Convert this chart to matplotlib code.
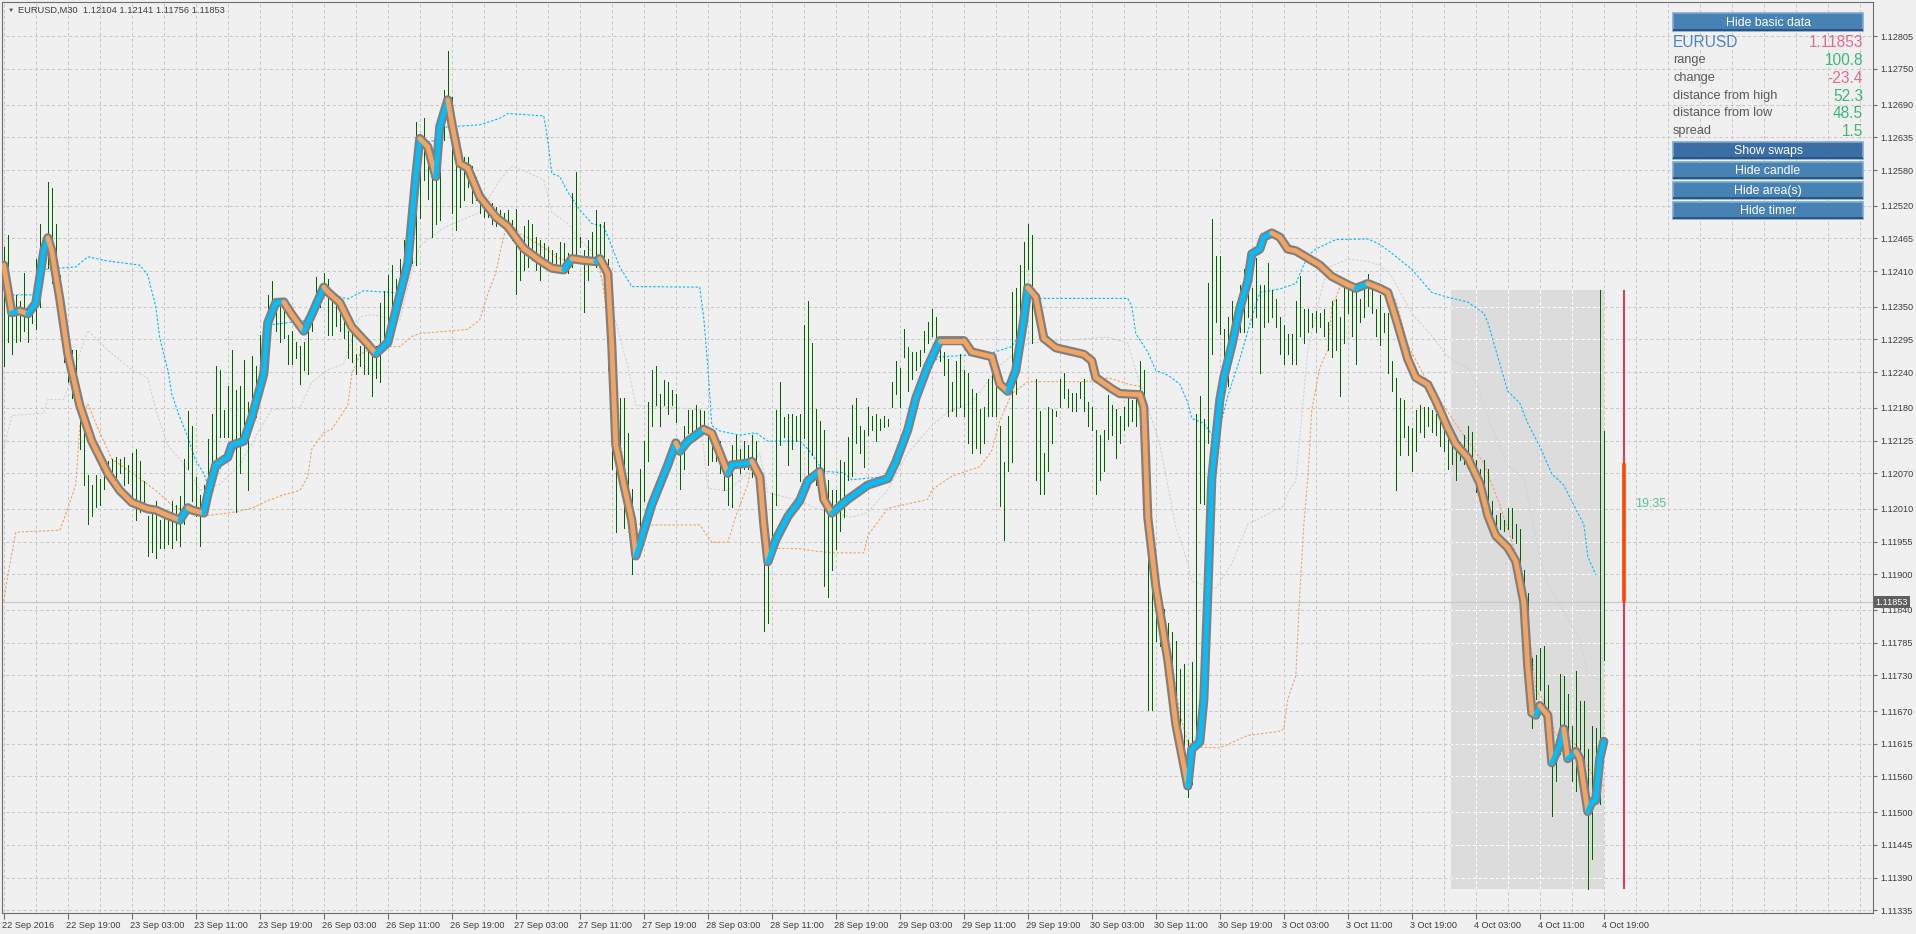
import matplotlib
matplotlib.use("Agg")
import matplotlib.pyplot as plt
import matplotlib.transforms as mtransforms
import numpy as np
from matplotlib.collections import LineCollection
from matplotlib.patches import Rectangle

plt.rcParams['font.family'] = ['Liberation Sans', 'DejaVu Sans']

W, H = 1916, 934
BASE = 1.1  # all price lists below are in points above 1.10000

symbol = "EURUSD"
timeframe = "M30"
last_ohlc = [1.12104, 1.12141, 1.11756, 1.11853]

# M30 bars, highs and lows (points)
hi = [
    2450, 2470, 2370, 2370, 2360, 2406, 2350, 2363, 2430, 2490,
    2456, 2559, 2550, 2490, 2403, 2357, 2310, 2277, 2277, 2204,
    2177, 2067, 2051, 2067, 2061, 2084, 2091, 2094, 2097, 2094,
    2097, 2084, 2104, 2111, 2091, 2057, 1998, 2017, 2024, 1991,
    2004, 1998, 2024, 2017, 2031, 2094, 2174, 2150, 2064, 2034,
    2051, 2127, 2170, 2250, 2244, 2177, 2217, 2277, 2210, 2217,
    2260, 2190, 2267, 2250, 2303, 2323, 2370, 2393, 2357, 2350,
    2357, 2303, 2310, 2290, 2284, 2290, 2320, 2357, 2400, 2383,
    2406, 2396, 2376, 2363, 2363, 2350, 2310, 2323, 2270, 2284,
    2290, 2284, 2284, 2284, 2357, 2376, 2403, 2420, 2396, 2430,
    2463, 2476, 2503, 2660, 2640, 2667, 2586, 2591, 2636, 2681,
    2715, 2780, 2703, 2586, 2591, 2602, 2602, 2586, 2569, 2541,
    2529, 2524, 2524, 2518, 2513, 2507, 2513, 2496, 2515, 2462,
    2485, 2496, 2490, 2468, 2462, 2457, 2451, 2445, 2440, 2459,
    2457, 2440, 2541, 2577, 2468, 2445, 2462, 2476, 2513, 2490,
    2493, 2430, 2277, 2164, 2197, 2197, 2137, 2044, 1984, 2077,
    2124, 2190, 2244, 2250, 2204, 2227, 2224, 2210, 2204, 2111,
    2150, 2177, 2177, 2184, 2177, 2174, 2144, 2144, 2131, 2124,
    2084, 2071, 2117, 2134, 2111, 2124, 2117, 2134, 2124, 2077,
    1984, 1951, 2037, 2177, 2224, 2164, 2170, 2170, 2167, 2170,
    2320, 2359, 2289, 2178, 2158, 2143, 2058, 2042, 2042, 2093,
    2089, 2131, 2185, 2197, 2150, 2143, 2181, 2166, 2170, 2162,
    2166, 2162, 2224, 2259, 2247, 2313, 2282, 2274, 2274, 2278,
    2309, 2324, 2347, 2332, 2289, 2274, 2262, 2224, 2259, 2270,
    2243, 2239, 2212, 2205, 2178, 2181, 2228, 2243, 2266, 2150,
    2089, 2166, 2374, 2382, 2421, 2459, 2490, 2471, 2228, 2174,
    2104, 2181, 2178, 2174, 2228, 2239, 2212, 2205, 2205, 2224,
    2228, 2189, 2181, 2143, 2135, 2143, 2201, 2185, 2178, 2166,
    2181, 2197, 2193, 2205, 2259, 2243, 2120, 1873, 1896, 1857,
    1842, 1818, 1803, 1788, 1741, 1749, 1622, 1753, 2169, 2200,
    2162, 2390, 2498, 2436, 2436, 2312, 2332, 2359, 2316, 2386,
    2413, 2436, 2382, 2432, 2386, 2386, 2424, 2378, 2363, 2332,
    2320, 2305, 2305, 2359, 2401, 2347, 2347, 2339, 2343, 2339,
    2347, 2324, 2359, 2363, 2332, 2382, 2393, 2386, 2389, 2363,
    2382, 2405, 2393, 2347, 2370, 2339, 2339, 2258, 2231, 2196,
    2193, 2150, 2146, 2177, 2185, 2181, 2181, 2177, 2169, 2177,
    2142, 2131, 2131, 2119, 2123, 2135, 2150, 2139, 2092, 2077,
    2092, 2077, 2023, 2000, 2003, 1992, 2011, 2011, 1984, 1976,
    1907, 1868, 1760, 1764, 1776, 1780, 1714, 1641, 1621, 1733,
    1729, 1699, 1645, 1737, 1687, 1687, 1606, 1645, 1641, 2378,
    2141]
lo = [
    2250, 2290, 2270, 2290, 2293, 2310, 2290, 2323, 2313, 2350,
    2410, 2416, 2390, 2383, 2310, 2257, 2224, 2197, 2190, 2111,
    2051, 1984, 1998, 2014, 2017, 2044, 2064, 2051, 2064, 2071,
    2051, 2054, 2024, 1991, 2004, 2011, 1931, 1938, 1928, 1944,
    1944, 1951, 1944, 1958, 1948, 1984, 2077, 2024, 1998, 1948,
    2001, 2044, 2057, 2077, 2131, 2131, 2131, 2104, 2004, 2071,
    2131, 2041, 2150, 2164, 2217, 2263, 2290, 2350, 2310, 2290,
    2297, 2254, 2254, 2263, 2220, 2244, 2237, 2310, 2337, 2350,
    2373, 2303, 2303, 2317, 2310, 2297, 2263, 2257, 2237, 2250,
    2237, 2237, 2200, 2230, 2224, 2277, 2317, 2337, 2350, 2350,
    2377, 2410, 2423, 2420, 2500, 2563, 2532, 2468, 2490, 2496,
    2630, 2653, 2507, 2479, 2518, 2529, 2552, 2524, 2529, 2507,
    2501, 2501, 2490, 2485, 2496, 2490, 2485, 2462, 2372, 2395,
    2412, 2417, 2428, 2412, 2395, 2434, 2417, 2412, 2417, 2406,
    2412, 2406, 2417, 2428, 2451, 2341, 2395, 2434, 2417, 2440,
    2434, 2244, 2077, 1971, 2051, 1978, 2004, 1901, 1938, 1964,
    2024, 2091, 2150, 2184, 2150, 2184, 2170, 2184, 2157, 2044,
    2077, 2137, 2137, 2144, 2144, 2150, 2084, 2091, 2091, 2071,
    2041, 2017, 2014, 2084, 2071, 2077, 2077, 2064, 2064, 1984,
    1805, 1818, 1958, 2017, 2117, 2131, 2084, 2111, 2124, 2057,
    2130, 2060, 2100, 2050, 2070, 1880, 1861, 1907, 1942, 1973,
    1996, 2058, 2066, 2120, 2104, 2081, 2135, 2143, 2124, 2143,
    2147, 2150, 2181, 2204, 2181, 2266, 2208, 2228, 2243, 2251,
    2274, 2289, 2301, 2297, 2259, 2235, 2166, 2174, 2166, 2181,
    2166, 2120, 2104, 2112, 2104, 2120, 2166, 2166, 2166, 2015,
    1957, 2073, 2089, 2204, 2251, 2367, 2413, 2289, 2058, 2035,
    2035, 2073, 2120, 2166, 2181, 2197, 2181, 2174, 2174, 2197,
    2174, 2150, 2143, 2035, 2058, 2073, 2127, 2135, 2096, 2120,
    2143, 2150, 2158, 2150, 2143, 2027, 1672, 1672, 1788, 1780,
    1764, 1714, 1649, 1625, 1641, 1560, 1525, 1548, 1610, 2020,
    2019, 2120, 2270, 2324, 2305, 2266, 2216, 2285, 2293, 2308,
    2308, 2332, 2316, 2332, 2239, 2316, 2324, 2332, 2316, 2270,
    2254, 2270, 2254, 2254, 2301, 2289, 2308, 2316, 2308, 2316,
    2301, 2277, 2266, 2277, 2200, 2289, 2339, 2301, 2254, 2324,
    2332, 2351, 2339, 2301, 2285, 2308, 2239, 2208, 2042, 2100,
    2131, 2100, 2073, 2108, 2139, 2131, 2150, 2139, 2135, 2116,
    2108, 2077, 2085, 2058, 2092, 2085, 2085, 2069, 2038, 2046,
    2023, 2000, 1969, 1969, 1977, 1973, 1977, 1961, 1953, 1884,
    1838, 1718, 1641, 1691, 1706, 1675, 1645, 1494, 1552, 1598,
    1645, 1621, 1552, 1536, 1598, 1560, 1370, 1421, 1513, 1513,
    1756]

# thick smoothed line (bar index, points)
smooth_i = [0, 2, 4, 6, 8, 10, 11, 12, 14, 16, 19, 22, 26, 29, 32, 36, 38, 41, 44, 46,
            47, 50, 51, 53, 56, 57, 60, 62, 65, 66, 68, 70, 72, 75, 77, 80, 81, 84, 87, 91,
            93, 96, 98, 101, 103, 104, 106, 108, 109, 111, 112, 114, 116, 119, 123, 126, 130, 134, 137, 140,
            142, 145, 148, 149, 151, 152, 153, 155, 157, 158, 159, 162, 166, 168, 169, 171, 175, 177, 179, 181,
            182, 186, 187, 189, 190, 191, 193, 196, 199, 201, 204, 205, 207, 211, 216, 221, 223, 226, 228, 231,
            234, 240, 242, 247, 249, 251, 253, 255, 256, 258, 260, 263, 270, 272, 273, 277, 279, 284, 285, 286,
            288, 291, 293, 296, 297, 299, 300, 301, 302, 304, 305, 307, 309, 311, 312, 314, 315, 317, 319, 321,
            323, 326, 329, 332, 336, 338, 341, 344, 346, 348, 351, 353, 356, 358, 361, 363, 366, 369, 371, 373,
            376, 378, 380, 381, 382, 383, 384, 386, 387, 389, 390, 391, 393, 394, 396, 397, 398, 399, 400]
smooth_v = [2420, 2340, 2343, 2338, 2356, 2444, 2466, 2444, 2363, 2271, 2184, 2124, 2070, 2041, 2021, 2010, 2008, 1999, 1991, 2012,
            2008, 2003, 2034, 2084, 2097, 2117, 2124, 2164, 2237, 2323, 2357, 2358, 2337, 2309, 2337, 2383, 2375, 2357, 2316, 2287,
            2271, 2290, 2343, 2423, 2570, 2633, 2619, 2569, 2653, 2698, 2659, 2591, 2583, 2535, 2501, 2485, 2448, 2428, 2415, 2412,
            2431, 2428, 2426, 2431, 2406, 2285, 2118, 2051, 1991, 1931, 1951, 2017, 2084, 2121, 2107, 2124, 2144, 2137, 2104, 2070,
            2084, 2087, 2090, 2064, 1984, 1921, 1958, 1997, 2024, 2057, 2073, 2026, 2003, 2026, 2050, 2061, 2089, 2143, 2196, 2250,
            2293, 2293, 2274, 2266, 2220, 2208, 2243, 2328, 2382, 2366, 2297, 2281, 2270, 2259, 2231, 2212, 2204, 2202, 2181, 1996,
            1880, 1756, 1648, 1544, 1606, 1618, 1689, 1868, 2062, 2193, 2231, 2285, 2347, 2393, 2439, 2447, 2467, 2474, 2467, 2447,
            2444, 2432, 2420, 2401, 2387, 2381, 2389, 2381, 2374, 2331, 2262, 2231, 2219, 2192, 2146, 2119, 2096, 2053, 1999, 1965,
            1945, 1922, 1853, 1744, 1667, 1663, 1679, 1663, 1583, 1613, 1640, 1590, 1602, 1590, 1501, 1517, 1520, 1590, 1619]

# upper channel (blue dotted)
upper_i = [0, 9, 10, 18, 21, 26, 34, 36, 38, 39, 41, 42, 44, 46, 48, 50, 51, 54, 57, 61,
           63, 66, 67, 76, 78, 79, 81, 82, 86, 90, 99, 101, 103, 105, 108, 110, 119, 124, 126, 135,
           136, 137, 139, 141, 144, 147, 150, 152, 154, 157, 174, 175, 176, 177, 179, 184, 188, 191, 199, 201,
           205, 210, 212, 220, 222, 226, 228, 231, 234, 246, 251, 252, 254, 257, 260, 281, 282, 283, 286, 288,
           291, 294, 296, 297, 300, 302, 304, 306, 309, 312, 314, 319, 323, 326, 328, 333, 341, 344, 347, 352,
           357, 361, 366, 370, 371, 374, 376, 379, 381, 384, 387, 390, 392, 395, 396, 398]
upper_v = [2370, 2370, 2413, 2417, 2434, 2427, 2420, 2403, 2350, 2297, 2244, 2203, 2164, 2131, 2091, 2070, 2051, 2077, 2107, 2124,
           2177, 2297, 2320, 2327, 2337, 2363, 2380, 2370, 2363, 2377, 2373, 2423, 2570, 2625, 2630, 2652, 2656, 2667, 2675, 2671,
           2630, 2574, 2569, 2543, 2513, 2490, 2485, 2451, 2417, 2384, 2383, 2330, 2250, 2150, 2141, 2134, 2138, 2124, 2124, 2111,
           2073, 2071, 2059, 2064, 2073, 2143, 2196, 2250, 2266, 2270, 2281, 2283, 2305, 2365, 2364, 2364, 2351, 2305, 2274, 2243,
           2235, 2220, 2189, 2162, 2154, 2135, 2146, 2200, 2262, 2332, 2374, 2380, 2389, 2436, 2447, 2463, 2464, 2455, 2440, 2413,
           2374, 2366, 2358, 2339, 2324, 2254, 2208, 2188, 2154, 2115, 2069, 2050, 2023, 1984, 1930, 1899]

# lower channel (orange dotted)
lower_i = [0, 1, 3, 14, 16, 18, 19, 21, 24, 27, 34, 38, 42, 46, 51, 57, 62, 66, 70, 74,
           76, 77, 80, 82, 86, 87, 89, 93, 99, 102, 104, 116, 119, 121, 123, 124, 126, 129, 132, 136,
           138, 142, 146, 149, 152, 154, 156, 157, 162, 174, 177, 181, 183, 186, 187, 189, 191, 199, 203, 207,
           215, 216, 221, 231, 232, 237, 244, 247, 249, 252, 256, 274, 276, 281, 284, 287, 291, 294, 296, 299,
           304, 311, 319, 320, 321, 323, 324, 325, 326, 327, 329, 331, 332, 334, 336, 344, 348, 351, 355, 359,
           364, 370, 374, 378, 380, 383, 385, 388, 390, 393, 395, 398, 400]
lower_v = [1855, 1898, 1971, 1974, 2011, 2051, 2150, 2187, 2138, 2094, 2061, 2041, 2017, 2004, 1999, 2004, 2011, 2024, 2034, 2041,
           2064, 2111, 2138, 2144, 2184, 2237, 2270, 2283, 2283, 2300, 2305, 2312, 2328, 2372, 2406, 2440, 2496, 2473, 2462, 2445,
           2434, 2424, 2422, 2417, 2291, 2124, 2051, 1985, 1983, 1983, 1954, 1954, 1998, 2051, 2091, 2059, 1944, 1943, 1939, 1936,
           1936, 1965, 2011, 2026, 2042, 2065, 2081, 2108, 2158, 2204, 2224, 2224, 2231, 2220, 2216, 1919, 1803, 1664, 1617, 1609,
           1608, 1629, 1636, 1640, 1690, 1729, 1868, 1984, 2061, 2177, 2247, 2277, 2347, 2382, 2387, 2387, 2361, 2286, 2235, 2193,
           2143, 2087, 2017, 1935, 1890, 1705, 1688, 1630, 1630, 1613, 1588, 1554, 1544]

# middle line (light grey dotted)
mid_i = [0, 2, 10, 11, 15, 21, 26, 32, 36, 38, 41, 46, 49, 54, 59, 64, 67, 74, 77, 81,
         85, 89, 92, 99, 102, 104, 110, 119, 124, 127, 131, 135, 137, 141, 144, 147, 152, 156, 158, 168,
         174, 176, 181, 185, 189, 191, 199, 203, 212, 216, 221, 226, 232, 236, 242, 249, 256, 276, 281, 283,
         289, 293, 296, 297, 303, 307, 311, 320, 321, 323, 326, 329, 331, 336, 341, 344, 347, 352, 357, 361,
         366, 369, 372, 376, 380, 384, 386, 390, 394, 396, 399]
mid_v = [2111, 2167, 2171, 2194, 2194, 2310, 2277, 2244, 2230, 2177, 2117, 2077, 2041, 2051, 2084, 2144, 2177, 2180, 2223, 2244,
         2254, 2333, 2337, 2327, 2410, 2453, 2483, 2509, 2563, 2586, 2576, 2563, 2509, 2490, 2463, 2443, 2350, 2250, 2184, 2180,
         2177, 2044, 2041, 2064, 2104, 2037, 2024, 2011, 1996, 2004, 2042, 2104, 2150, 2173, 2189, 2251, 2289, 2299, 2289, 2243,
         2119, 1980, 1919, 1888, 1876, 1918, 1984, 2015, 2038, 2057, 2277, 2366, 2416, 2430, 2426, 2420, 2401, 2339, 2301, 2266,
         2247, 2208, 2146, 2084, 2061, 1930, 1884, 1837, 1791, 1729, 1721]

area_start, area_end = 362, 400
timer_bar = 405
timer_top, timer_bottom = 1.12088, 1.11853
timer_text = "19:35"

xlabels = ["22 Sep 2016", "22 Sep 19:00", "23 Sep 03:00", "23 Sep 11:00", "23 Sep 19:00",
           "26 Sep 03:00", "26 Sep 11:00", "26 Sep 19:00", "27 Sep 03:00", "27 Sep 11:00",
           "27 Sep 19:00", "28 Sep 03:00", "28 Sep 11:00", "28 Sep 19:00", "29 Sep 03:00",
           "29 Sep 11:00", "29 Sep 19:00", "30 Sep 03:00", "30 Sep 11:00", "30 Sep 19:00",
           "3 Oct 03:00", "3 Oct 11:00", "3 Oct 19:00", "4 Oct 03:00", "4 Oct 11:00", "4 Oct 19:00"]
yticks = [1.12805, 1.12750, 1.12690, 1.12635, 1.12580, 1.12520, 1.12465, 1.12410, 1.12350,
          1.12295, 1.12240, 1.12180, 1.12125, 1.12070, 1.12010, 1.11955, 1.11900, 1.11840,
          1.11785, 1.11730, 1.11670, 1.11615, 1.11560, 1.11500, 1.11445, 1.11390, 1.11335]

info_labels = ["range", "change", "distance from high", "distance from low", "spread"]
info_values = ["100.8", "-23.4", "52.3", "48.5", "1.5"]
info_colors = ["#3cb878", "#e06c8c", "#3cb878", "#3cb878", "#3cb878"]
buttons = ["Show swaps", "Hide candle", "Hide area(s)", "Hide timer"]


def p(v):
    return BASE + np.asarray(v, dtype=float) / 1e5


def fx(px):
    return px / W


def fy(py):
    return 1 - py / H


BG = "#f0f0f0"
GRID = "#c8c8c8"
FRAME = "#6e6e6e"
TXT = "#3c3c3c"

fig = plt.figure(figsize=(W / 100, H / 100), dpi=100, facecolor=BG)
ax = fig.add_axes([fx(2), fy(913), (1873 - 2) / W, (913 - 2) / H])
ax.set_facecolor(BG)
ax.set_xlim(-0.45, 467.3)
ax.set_ylim(1.113303, 1.128626)

# grid
grid_x = np.arange(0, 468, 8)
dash = (0, (3, 2.5))
ax.vlines(grid_x, 1.11, 1.13, colors=GRID, lw=0.75, linestyles=dash, zorder=1)
ax.hlines(yticks, -1, 470, colors=GRID, lw=0.75, linestyles=dash, zorder=1)

# area box
a_hi = p(max(hi[area_start:area_end + 1]))
a_lo = p(min(lo[area_start:area_end + 1]))
area = Rectangle((area_start - 0.2, a_lo), area_end - area_start + 0.2, a_hi - a_lo,
                 fc="#dcdcdc", ec="none", zorder=1.5)
ax.add_patch(area)
g1 = ax.vlines(grid_x, 1.11, 1.13, colors="white", lw=0.75, linestyles=dash, zorder=1.6)
g2 = ax.hlines(yticks, -1, 470, colors="white", lw=0.75, linestyles=dash, zorder=1.6)
g1.set_clip_path(area)
g2.set_clip_path(area)

# channel lines
dots = (0, (2.2, 1.6))
ax.plot(mid_i, p(mid_v), color="#d0d0d0", lw=0.75, ls=dots, zorder=2)
ax.plot(upper_i, p(upper_v), color="#00bfff", lw=0.8, ls=dots, zorder=2)
ax.plot(lower_i, p(lower_v), color="#f4a460", lw=0.8, ls=dots, zorder=2)

# current price line
ax.axhline(last_ohlc[3], color="#c8c8c8", lw=0.9, zorder=2.2)

# bars
xb = np.arange(len(hi))
ax.vlines(xb, p(lo), p(hi), colors="#006400", lw=0.72, zorder=3, antialiased=False)

# smoothed line, grey halo then colour by slope
sx = np.array(smooth_i, dtype=float)
sy = p(smooth_v)
ax.plot(sx, sy, color="#808080", lw=6.6, solid_capstyle="round", solid_joinstyle="round", zorder=4)
pts = np.column_stack([sx, sy]).reshape(-1, 1, 2)
segs = np.concatenate([pts[:-1], pts[1:]], axis=1)
cols = ["#00bfff" if b > a else "#f4a460" for a, b in zip(sy[:-1], sy[1:])]
ax.add_collection(LineCollection(segs, colors=cols, linewidths=3.4, capstyle="round",
                                 joinstyle="round", zorder=5))

# timer
ax.vlines(timer_bar, a_lo, a_hi, colors="#dc143c", lw=1.2, zorder=5)
ax.vlines(timer_bar, timer_bottom, timer_top, colors="#ff4500", lw=2.6, zorder=5.5)
fig.text(fx(1635), fy(504), timer_text, color="#5cbf8c", fontsize=9, va="center", ha="left")

# axes styling
for s in ax.spines.values():
    s.set_color(FRAME)
    s.set_linewidth(0.8)
ax.yaxis.tick_right()
ax.set_yticks(yticks)
ax.set_yticklabels(["%.5f" % v for v in yticks])
ax.set_xticks(np.arange(0, 16 * len(xlabels), 16))
ax.set_xticklabels(xlabels, ha="left")
ax.tick_params(axis="y", direction="out", length=3, width=0.8, color=FRAME,
               labelsize=6.6, labelcolor=TXT, pad=2)
ax.tick_params(axis="x", direction="out", length=4, width=0.8, color=FRAME,
               labelsize=6.6, labelcolor=TXT, pad=2)
for t in ax.get_xticklabels():
    t.set_transform(t.get_transform() + mtransforms.ScaledTranslation(-2 / 100, 0, fig.dpi_scale_trans))

# current price tag on the axis
tr = mtransforms.blended_transform_factory(ax.transAxes, ax.transData)
ax.text(1.0015, last_ohlc[3], "%.5f" % last_ohlc[3], transform=tr, color="white", fontsize=6.6,
        va="center", ha="left", clip_on=False, zorder=10,
        bbox=dict(boxstyle="square,pad=0.18", fc="#5f5f5f", ec="none"))

# header
fig.text(fx(8), fy(10), "\u25bc", fontsize=4.5, color="#505050", va="center")
head = "%s,%s  %s" % (symbol, timeframe, " ".join("%.5f" % v for v in last_ohlc))
fig.text(fx(18), fy(10), head, fontsize=6.7, color=TXT, va="center")

# info panel
def button(y0, y1, text, fc):
    fig.add_artist(Rectangle((fx(1673), fy(y1)), (1863 - 1673) / W, (y1 - y0) / H,
                             transform=fig.transFigure, fc=fc, ec="#7fa8d4", lw=1.2))
    fig.add_artist(Rectangle((fx(1673), fy(y1)), (1863 - 1673) / W, 2 / H,
                             transform=fig.transFigure, fc="#2a5580", ec="none"))
    fig.text(fx(1768), fy((y0 + y1) / 2 + 0.5), text, color="white", fontsize=8.8,
             ha="center", va="center")


button(13.3, 30.7, "Hide basic data", "#4682b4")
fig.text(fx(1673), fy(42.5), symbol, color="#4a86c0", fontsize=11.2, va="center")
fig.text(fx(1863), fy(42.5), "%.5f" % last_ohlc[3], color="#e06c8c", fontsize=11.2, va="center", ha="right")
for k, (lab, val, c) in enumerate(zip(info_labels, info_values, info_colors)):
    yy = 60 + 17.8 * k
    fig.text(fx(1673), fy(yy), lab, color="#5a5a5a", fontsize=9.2, va="center")
    fig.text(fx(1863), fy(yy + 0.5), val, color=c, fontsize=11.2, va="center", ha="right")
for k, b in enumerate(buttons):
    y0 = 142.3 + 19.8 * k
    button(y0, y0 + 17, b, "#3a6ea5" if k == 0 else "#4682b4")

fig.savefig("out.png", dpi=100, facecolor=BG)
